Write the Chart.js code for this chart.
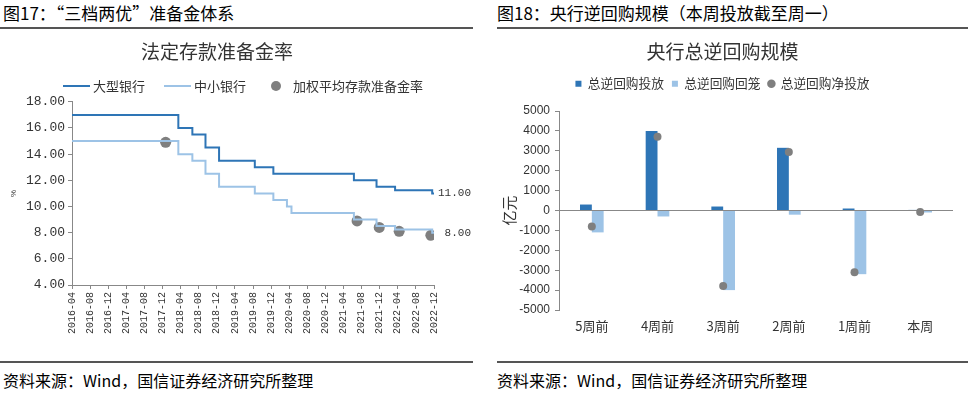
<!DOCTYPE html>
<html>
<head>
<meta charset="utf-8">
<script src="https://cdn.jsdelivr.net/npm/chart.js@4.4.0/dist/chart.umd.min.js"></script>
<style>
  body { margin: 0; width: 968px; height: 393px; background: #fff; position: relative; overflow: hidden;
         font-family: "Noto Sans CJK SC", sans-serif; color: #000; }
  .head { position: absolute; top: 3px; font-size: 17px; line-height: 20px; white-space: nowrap; }
  .rule { position: absolute; height: 2px; background: #555; }
  .foot { position: absolute; top: 370px; font-size: 16px; line-height: 20px; white-space: nowrap; }
  canvas { position: absolute; }
  .lg { position: absolute; font-size: 13px; line-height: 16px; color: #333; white-space: nowrap; }
  .lg-line { position: absolute; height: 2px; }
  .lg-dot { position: absolute; width: 10px; height: 10px; border-radius: 50%; background: #7f7f7f; }
</style>
</head>
<body>
<div class="head" style="left:3px">图17：“三档两优”准备金体系</div>
<div class="head" style="left:497px">图18：央行逆回购规模（本周投放截至周一）</div>
<div class="rule" style="left:0;width:473px;top:27px"></div>
<div class="rule" style="left:497px;width:471px;top:27px"></div>

<canvas id="rrr" width="480" height="332" style="left:0;top:30px;width:480px;height:332px"></canvas>
<canvas id="repo" width="476" height="332" style="left:492px;top:30px;width:476px;height:332px"></canvas>

<div class="lg-line" style="left:63px;top:85px;width:27px;background:#2e75b6"></div>
<div class="lg" style="left:93px;top:78px">大型银行</div>
<div class="lg-line" style="left:164px;top:85px;width:27px;background:#9dc3e6"></div>
<div class="lg" style="left:194px;top:78px">中小银行</div>
<div class="lg-dot" style="left:271px;top:81px"></div>
<div class="lg" style="left:293px;top:78px">加权平均存款准备金率</div>

<div class="rule" style="left:0;width:473px;top:361px"></div>
<div class="rule" style="left:497px;width:471px;top:361px"></div>
<div class="foot" style="left:3px">资料来源：Wind，国信证券经济研究所整理</div>
<div class="foot" style="left:497px">资料来源：Wind，国信证券经济研究所整理</div>

<script>
const DARK = '#2e75b6';
const LIGHT = '#9dc3e6';
const GRAY = '#7f7f7f';
const CJK = '"Noto Sans CJK SC", sans-serif';

// left chart: x is months since 2016-04
const monthTicks = ['2016-04', '2016-08', '2016-12', '2017-04', '2017-08', '2017-12', '2018-04',
  '2018-08', '2018-12', '2019-04', '2019-08', '2019-12', '2020-04', '2020-08', '2020-12',
  '2021-04', '2021-08', '2021-12', '2022-04', '2022-08', '2022-12'];
const largeBankX = [0, 23.5, 26.6, 29.5, 32.5, 40.4, 44.5, 62.3, 67.3, 71.4, 79.6, 80];
const largeBankRate = [17, 16, 15.5, 14.5, 13.5, 13, 12.5, 12, 11.5, 11.25, 11, 11];
const smallBankX = [0, 23.5, 26.6, 29.5, 32.5, 40.4, 44.5, 47.5, 48.5, 62.3, 67.3, 71.4, 79.6, 80];
const smallBankRate = [15, 14, 13.5, 12.5, 11.5, 11, 10.5, 10, 9.5, 9, 8.5, 8.25, 8, 8];
const avgX = [20.7, 63, 67.9, 72.3, 79.3];
const avgRate = [14.9, 8.9, 8.4, 8.1, 7.8];

// right chart, 亿元
const weeks = ['5周前', '4周前', '3周前', '2周前', '1周前', '本周'];
const injection = [300, 4000, 200, 3150, 100, 30];
const maturity = [-1100, -300, -4000, -210, -3200, -100];
const netInjection = [-800, 3700, -3800, 2940, -3100, -70];

const pts = (xs, ys) => xs.map((x, i) => ({ x: x, y: ys[i] }));

const endLabels = {
  id: 'endLabels',
  afterDatasetsDraw(chart) {
    const ctx = chart.ctx;
    ctx.save();
    ctx.font = '11px "Liberation Mono"';
    ctx.fillStyle = '#333';
    ctx.textAlign = 'right';
    ctx.textBaseline = 'middle';
    [0, 1].forEach(i => {
      const meta = chart.getDatasetMeta(i).data;
      const last = meta[meta.length - 1];
      const v = chart.data.datasets[i].data[meta.length - 1].y;
      ctx.fillText(v.toFixed(2), last.x + 37, last.y);
    });
    ctx.restore();
  }
};

// extra room under the legend
const legendGap = {
  id: 'legendGap',
  beforeInit(chart) {
    const fit = chart.legend.fit;
    chart.legend.fit = function () {
      fit.call(this);
      this.height += 11;
    };
  }
};

new Chart(document.getElementById('rrr'), {
  type: 'line',
  data: {
    datasets: [
      { label: '大型银行', data: pts(largeBankX, largeBankRate), borderColor: DARK, borderWidth: 2,
        stepped: true, pointRadius: 0 },
      { label: '中小银行', data: pts(smallBankX, smallBankRate), borderColor: LIGHT, borderWidth: 2,
        stepped: true, pointRadius: 0 },
      { label: '加权平均存款准备金率', data: pts(avgX, avgRate), showLine: false, pointRadius: 5.5,
        pointBackgroundColor: GRAY, pointBorderWidth: 0, backgroundColor: GRAY, borderColor: GRAY }
    ]
  },
  options: {
    responsive: false,
    animation: false,
    layout: { padding: { left: 0, right: 46, top: 0, bottom: 0 } },
    plugins: {
      legend: { display: false },
      tooltip: { enabled: false },
      title: { display: true, text: '法定存款准备金率', color: '#333',
        font: { family: CJK, size: 19, weight: 'normal' }, padding: { top: 10, bottom: 39 } }
    },
    scales: {
      x: {
        type: 'linear', min: 0, max: 80,
        grid: { drawOnChartArea: false, drawTicks: true, tickLength: 4, color: '#888' },
        border: { color: '#888' },
        ticks: { stepSize: 4, autoSkip: false, maxRotation: 90, minRotation: 90, padding: 3,
          color: '#333', font: { family: '"Liberation Mono"', size: 10 },
          callback: v => monthTicks[v / 4] },
        afterFit: s => { s.height = 77; }
      },
      y: {
        min: 4, max: 18,
        grid: { drawOnChartArea: false, drawTicks: true, tickLength: 4, color: '#888' },
        border: { color: '#888' },
        ticks: { stepSize: 2, padding: 3, color: '#333', font: { family: '"Liberation Mono"', size: 13 },
          callback: v => v.toFixed(2) },
        title: { display: true, text: '%', color: '#333', font: { size: 8 }, padding: { top: 9, bottom: 0 } },
        afterFit: s => { s.width = 72; }
      }
    }
  },
  plugins: [endLabels]
});

new Chart(document.getElementById('repo'), {
  type: 'bar',
  data: {
    labels: weeks,
    datasets: [
      { label: '总逆回购投放', data: injection, backgroundColor: DARK, pointStyle: 'rect',
        categoryPercentage: 0.36, barPercentage: 1, order: 1 },
      { label: '总逆回购回笼', data: maturity, backgroundColor: LIGHT, pointStyle: 'rect',
        categoryPercentage: 0.36, barPercentage: 1, order: 1 },
      { label: '总逆回购净投放', type: 'line', data: netInjection, showLine: false, pointRadius: 4,
        pointBackgroundColor: GRAY, pointBorderWidth: 0, backgroundColor: GRAY, borderColor: GRAY,
        pointStyle: 'circle', order: 0 }
    ]
  },
  options: {
    responsive: false,
    animation: false,
    layout: { padding: { left: 0, right: 15, top: 0, bottom: 0 } },
    plugins: {
      tooltip: { enabled: false },
      title: { display: true, text: '央行总逆回购规模', color: '#333',
        font: { family: CJK, size: 19, weight: 'normal' }, padding: { top: 10, bottom: 6.5 } },
      legend: {
        position: 'top',
        labels: { usePointStyle: true, boxWidth: 6, boxHeight: 6, padding: 8, color: '#333',
          font: { family: CJK, size: 12.7 }, sort: (a, b) => a.datasetIndex - b.datasetIndex }
      }
    },
    scales: {
      x: {
        grid: { display: false, drawTicks: false },
        border: { display: false },
        ticks: { padding: 8, color: '#333', font: { family: CJK, size: 13 } },
        afterFit: s => { s.height = 52; }
      },
      y: {
        min: -5000, max: 5000,
        grid: { color: c => (c.tick && c.tick.value === 0 ? '#888' : 'rgba(0,0,0,0)'),
          tickColor: '#888', tickLength: 4 },
        border: { color: '#888' },
        ticks: { stepSize: 1000, padding: 5, color: '#333',
          font: { family: '"Liberation Sans", Arial, sans-serif', size: 12 },
          callback: v => String(v) },
        title: { display: true, text: '亿元', color: '#333', font: { family: CJK, size: 15 },
          padding: { top: 8, bottom: 0 } },
        afterFit: s => { s.width = 67; }
      }
    }
  },
  plugins: [legendGap]
});
</script>
</body>
</html>
